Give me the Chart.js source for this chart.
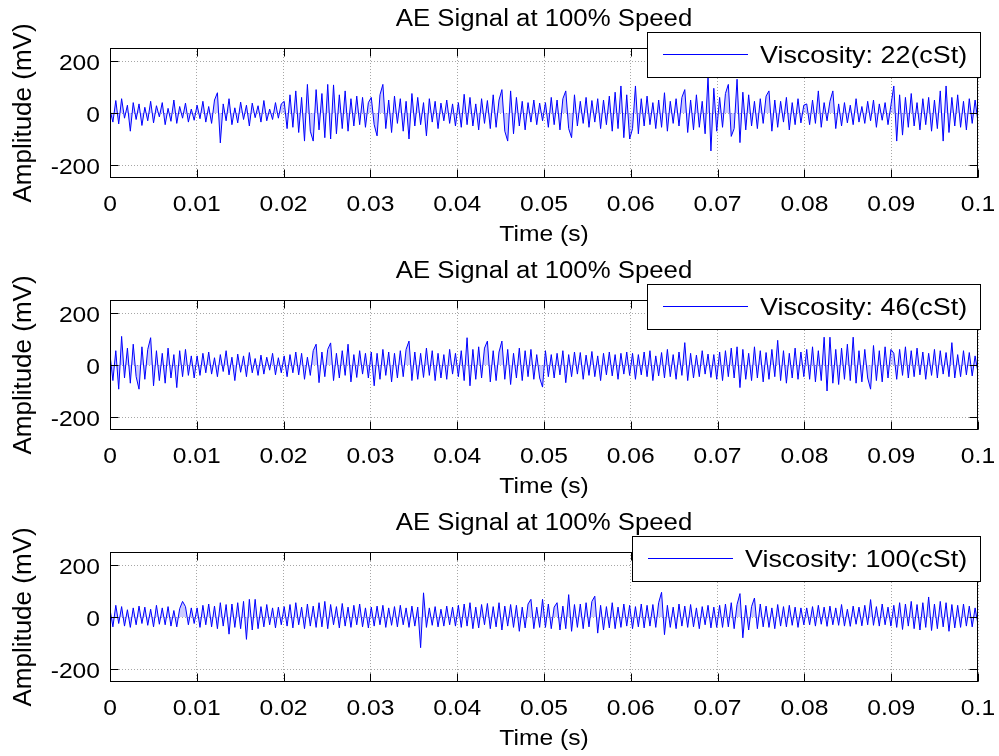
<!DOCTYPE html>
<html><head><meta charset="utf-8">
<script src="https://cdn.jsdelivr.net/npm/chart.js@4"></script>
<style>
html,body{margin:0;padding:0;background:#fff;}
#wrap{position:relative;width:999px;height:756px;overflow:hidden;}
canvas{position:absolute;left:0;}
</style></head><body>
<div id="wrap">
<canvas id="c1" width="999" height="252" style="top:0px"></canvas>
<canvas id="c2" width="999" height="252" style="top:252px"></canvas>
<canvas id="c3" width="999" height="252" style="top:504px"></canvas>
</div>
<script>
// ---- data ----
const chartTitle = 'AE Signal at 100% Speed';
const xTitle = 'Time (s)';
const yTitle = 'Amplitude (mV)';
const xTicks = [0,0.01,0.02,0.03,0.04,0.05,0.06,0.07,0.08,0.09,0.1];
const xTickLabels = ['0','0.01','0.02','0.03','0.04','0.05','0.06','0.07','0.08','0.09','0.1'];
const yTicks = [-200,0,200];
const yTickLabels = ['-200','0','200'];
const timeSpan = 0.1; // seconds shown
const seriesLabels = ['Viscosity: 22(cSt)','Viscosity: 46(cSt)','Viscosity: 100(cSt)'];

const visc22 = [
12,-35,48,-42,55,-20,30,-70,40,-25,35,-48,22,-30,45,-38,28,-15,40,-45,18,-32,50,-40,25,-20,38,-35,15,-28,
30,-22,45,-35,25,-40,50,78,-115,35,-30,55,-45,20,-38,42,-25,30,-50,38,-18,28,-35,48,-30,15,-25,40,-20,35,
45,-60,70,-55,85,-75,60,-108,110,-70,-108,90,-65,75,-95,110,-100,108,-80,70,-60,85,-70,55,-50,65,-45,60,-55,40,
60,-45,-88,70,110,-60,50,-75,65,-40,55,-70,45,-100,75,-50,60,-45,40,-88,55,-35,45,-60,38,-30,50,-40,35,-50,
40,-55,72,-45,60,-50,35,-65,55,-40,48,-60,70,-55,50,90,-70,-108,85,-80,60,-50,45,-65,40,-35,50,-45,38,-30,
40,-55,60,-45,50,-65,55,85,-60,-95,70,-50,45,-40,60,-55,48,-35,55,-60,50,-45,65,-70,80,-60,104,-95,70,-100,
-60,104,-80,55,-50,65,-45,40,-60,50,-55,78,-70,45,-40,55,-50,60,90,-75,50,-65,70,-55,45,-80,140,-146,95,-70,
60,-55,75,110,-90,-60,130,-114,80,-65,70,-50,45,-60,55,-40,65,85,-70,50,-55,45,-35,60,-65,40,-45,55,-38,30,
35,-45,50,-40,85,-55,40,-30,45,85,-60,35,-50,40,-38,30,-45,55,-35,25,-40,45,-30,50,-55,35,-28,40,-45,30,
104,-108,70,-85,60,-55,75,-50,40,-65,55,-45,60,-70,50,-60,85,-108,104,-75,60,-50,70,-55,45,-65,55,-40,50,-35
];
const visc46 = [
40,-60,55,-93,110,-50,65,-70,80,-45,-93,70,-55,60,105,-80,55,-60,45,-70,65,-50,40,-87,55,-45,60,-40,35,-50,
35,-40,45,-30,50,-35,28,-45,40,-25,55,-38,30,-60,42,-28,35,-45,48,-30,25,-40,38,-35,30,-20,45,-38,28,-30,
35,-45,40,-30,50,-38,45,-55,30,-40,55,80,-68,50,-45,60,85,-60,45,-50,55,-40,80,-65,40,-48,55,-35,45,-50,
50,-80,45,-55,60,-40,50,-65,45,-50,55,-45,60,92,-60,50,-55,45,-48,65,-40,55,-60,45,-50,40,-55,60,-35,45,
-45,55,-60,105,-80,60,-55,70,-50,65,92,-65,55,-60,50,92,-55,60,-75,45,-50,65,-60,55,-45,60,-55,40,-50,-85,
55,-45,40,-50,45,-38,55,-68,40,-45,50,-35,48,-55,38,-40,52,-45,35,-60,45,-38,50,-42,40,-55,45,-35,50,-40,
45,-55,40,-38,50,-45,55,-60,35,-42,48,-50,60,-45,40,-55,50,-40,86,-60,45,-50,38,-45,55,-35,42,-48,40,-55,
50,-60,55,-45,65,-50,70,-87,60,-55,45,-60,70,-50,55,-65,48,-55,60,-45,95,-60,55,-70,45,-50,65,-55,50,-45,
60,-55,70,-65,55,-60,107,-100,107,-70,60,-75,65,-55,80,-60,107,-70,55,-65,60,-50,-93,75,-60,55,-65,70,-50,60,
45,-55,60,-40,70,-50,55,-45,65,-38,50,-55,45,-40,60,-50,55,-35,48,-45,86,-50,40,-45,55,-38,48,-42,35,-30
];
const visc100 = [
30,-38,45,-25,40,-35,28,-40,35,-30,42,-25,38,-32,30,-38,45,-28,35,-30,40,-35,25,-38,32,60,40,-30,35,-25,
35,-40,45,-30,50,-38,42,-45,55,-35,48,-66,50,-40,55,-45,60,-86,68,-50,68,-45,40,-38,48,-30,35,-42,38,-30,
40,-35,48,-42,55,-30,38,-45,50,-35,42,-40,55,-38,60,-45,48,-30,40,-42,52,-35,38,-40,45,-30,50,-38,35,-42,
38,-35,42,-30,45,-40,35,-32,40,-38,45,-30,35,-40,42,-35,38,-118,93,-40,35,-32,40,-38,30,-35,42,-30,38,-35,
45,-40,50,-35,55,-45,38,-42,48,-30,52,-45,40,-38,55,-50,42,-35,48,-40,45,-55,38,-42,50,68,-45,38,-40,68,
-40,50,-45,38,55,-50,42,-45,86,-55,48,-40,50,-45,55,-38,60,80,-62,45,-50,40,-42,55,-45,38,-40,50,-35,45,
-45,40,-38,50,-42,45,-35,48,-40,55,95,-68,45,-40,38,-45,50,-35,42,-40,48,-38,35,-45,40,-30,45,-42,38,-40,
45,-40,50,-38,55,-45,48,90,-80,45,-50,40,73,-45,50,-38,42,-40,35,-45,48,-35,40,-38,45,-32,38,-40,35,-30,
35,-30,40,-35,45,-28,38,-36,42,-30,35,-32,48,-35,30,-36,42,-28,38,-34,45,-30,67,-32,40,-35,50,-30,38,-35,
45,-40,55,-48,50,-35,60,-45,48,-50,55,-40,77,-52,50,-45,60,-38,55,-55,48,-42,45,-40,50,-35,42,-38,35,-30
];

// ---- rendering ----
const FONT = "'Liberation Sans', Arial, Helvetica, sans-serif";
const TEXT_STRETCH = 1.12; // the reference text is drawn wider than it is tall
Chart.defaults.font.family = FONT;
Chart.defaults.color = '#000';

function stretchText(ctx, k) {
  const orig = ctx.fillText.bind(ctx);
  ctx.fillText = function (text, x, y, maxWidth) {
    const m = ctx.getTransform();
    if (Math.abs(m.b) > 1e-6 || Math.abs(m.c) > 1e-6) {
      return maxWidth === undefined ? orig(text, x, y) : orig(text, x, y, maxWidth);
    }
    ctx.save();
    ctx.translate(x, y);
    ctx.scale(k, 1);
    if (maxWidth === undefined) orig(text, 0, 0); else orig(text, 0, 0, maxWidth / k);
    ctx.restore();
  };
}

const framePlugin = {
  id: 'frame',
  afterDatasetsDraw(chart) {
    const {ctx, chartArea: a, scales: {x, y}} = chart;
    ctx.save();
    ctx.strokeStyle = '#000';
    ctx.lineWidth = 1;
    const L = Math.round(a.left) + 0.5, R = Math.round(a.right) - 0.5;
    const T = Math.round(a.top) + 0.5, B = Math.round(a.bottom) - 0.5;
    const tl = 8;
    ctx.beginPath();
    xTicks.forEach(v => {
      const px = Math.round(x.getPixelForValue(v)) + 0.5;
      ctx.moveTo(px, B); ctx.lineTo(px, B - tl);
      ctx.moveTo(px, T); ctx.lineTo(px, T + tl);
    });
    yTicks.forEach(v => {
      const py = Math.round(y.getPixelForValue(v)) + 0.5;
      ctx.moveTo(L, py); ctx.lineTo(L + tl, py);
      ctx.moveTo(R, py); ctx.lineTo(R - tl, py);
    });
    ctx.stroke();
    ctx.strokeRect(L, T, R - L, B - T);
    ctx.restore();
  },
  afterDraw(chart) {
    const {ctx, chartArea: a} = chart;
    const ds = chart.data.datasets[0];
    ctx.save();
    ctx.font = '24px ' + FONT;
    const tw = ctx.measureText(ds.label).width * TEXT_STRETCH;
    const h = 46, w = Math.round(113 + tw + 14);
    const right = Math.round(a.right) + 3, top = Math.round(a.top) - 16;
    const left = right - w;
    ctx.fillStyle = '#fff';
    ctx.fillRect(left, top, w, h);
    ctx.strokeStyle = '#000';
    ctx.lineWidth = 1;
    ctx.strokeRect(left + 0.5, top + 0.5, w - 1, h - 1);
    ctx.strokeStyle = ds.borderColor;
    ctx.beginPath();
    ctx.moveTo(left + 16, top + 22.5);
    ctx.lineTo(left + 101, top + 22.5);
    ctx.stroke();
    ctx.fillStyle = '#000';
    ctx.textBaseline = 'middle';
    ctx.textAlign = 'left';
    ctx.fillText(ds.label, left + 113, top + 24);
    ctx.restore();
  }
};

function makeChart(id, label, values) {
  const n = values.length;
  const pts = values.map((v, i) => ({x: i * timeSpan / (n - 1), y: v}));
  const canvas = document.getElementById(id);
  stretchText(canvas.getContext('2d'), TEXT_STRETCH);
  return new Chart(canvas, {
    type: 'line',
    data: {datasets: [{label, data: pts, borderColor: '#0000ff', borderWidth: 1,
      backgroundColor: 'rgba(70,70,255,0.28)', pointRadius: 0, fill: 'origin', tension: 0}]},
    plugins: [framePlugin],
    options: {
      responsive: false, animation: false, devicePixelRatio: 1,
      layout: {padding: {left: 0, right: 21, top: 0, bottom: 0}},
      plugins: {
        legend: {display: false}, tooltip: {enabled: false},
        title: {display: true, text: chartTitle, fullSize: false, color: '#000',
          font: {size: 23, weight: 'normal'}, padding: {top: 6, bottom: 14.4}}
      },
      scales: {
        x: {
          type: 'linear', min: 0, max: timeSpan,
          afterBuildTicks: s => { s.ticks = xTicks.map(v => ({value: v})); },
          afterFit: s => { s.height = 74; s.paddingLeft = 0; s.paddingRight = 0; },
          ticks: {callback: (v, i) => xTickLabels[i], font: {size: 22}, color: '#000',
            padding: 14, maxRotation: 0, autoSkip: false},
          grid: {color: 'rgba(0,0,0,0.35)', lineWidth: 1, drawTicks: false},
          border: {display: false, dash: [1, 2]},
          title: {display: true, text: xTitle, font: {size: 22}, color: '#000', padding: {top: 0, bottom: 4}}
        },
        y: {
          min: -250, max: 250,
          afterBuildTicks: s => { s.ticks = yTicks.map(v => ({value: v})); },
          afterFit: s => { s.width = 110; s.paddingTop = 0; s.paddingBottom = 0; },
          ticks: {callback: (v, i) => yTickLabels[i], font: {size: 22}, color: '#000', padding: 10, labelOffset: 3},
          grid: {color: 'rgba(0,0,0,0.35)', lineWidth: 1, drawTicks: false},
          border: {display: false, dash: [1, 2]},
          title: {display: true, text: yTitle, font: {size: 26}, color: '#000', padding: {top: 8.4, bottom: 0}}
        }
      }
    }
  });
}

makeChart('c1', seriesLabels[0], visc22);
makeChart('c2', seriesLabels[1], visc46);
makeChart('c3', seriesLabels[2], visc100);
</script>
</body></html>
